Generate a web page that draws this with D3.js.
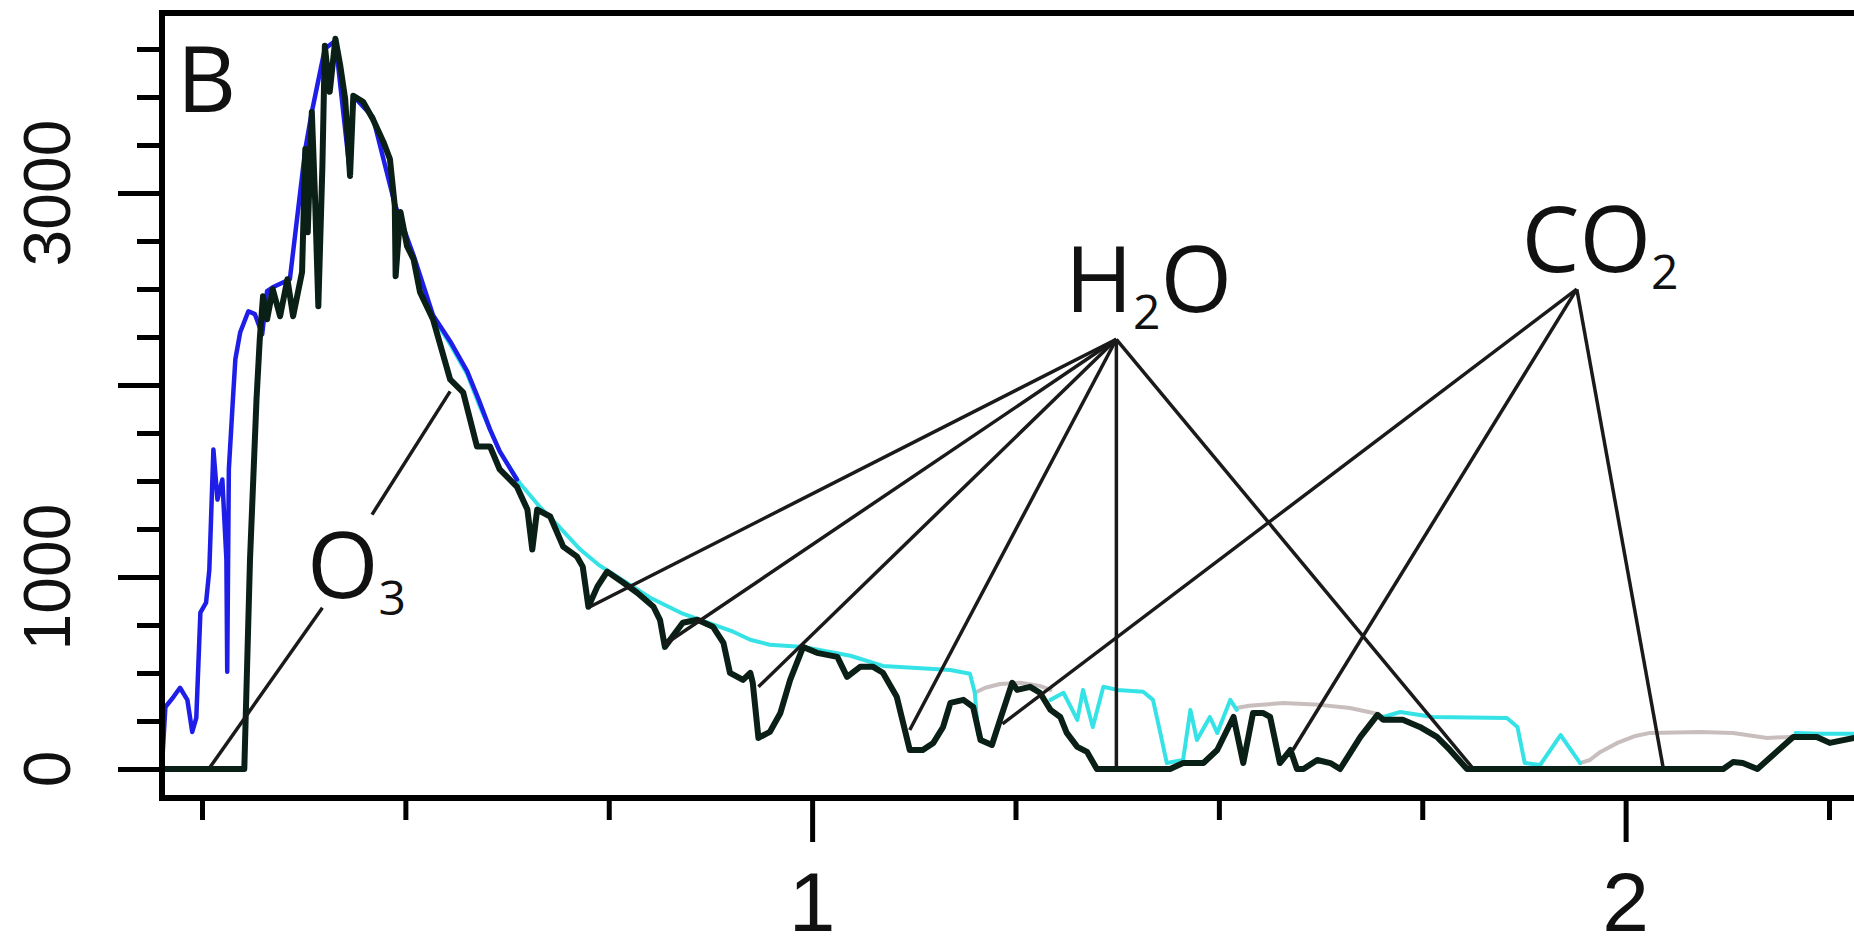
<!DOCTYPE html>
<html>
<head>
<meta charset="utf-8">
<title>Spectrum B</title>
<style>
  body { margin: 0; background: #fff; }
  svg { display: block; }
</style>
</head>
<body>
<svg></svg>
<script src="https://d3js.org/d3.v7.min.js"></script>
<script>
// wavelength (um) and irradiance for each trace
var blackWl = [0.201,0.294,0.302,0.309,0.317,0.321,0.325,0.330,0.337,0.346,0.355,0.362,0.373,0.377,0.380,0.385,0.389,0.393,0.398,0.401,
  0.407,0.414,0.420,0.426,0.432,0.436,0.448,0.460,0.473,0.481,0.487,0.488,0.494,0.502,0.510,0.518,0.534,0.555,0.571,0.588,
  0.604,0.616,0.637,0.650,0.656,0.662,0.678,0.694,0.711,0.718,0.725,0.736,0.748,0.768,0.785,0.805,0.813,0.819,0.841,0.859,
  0.878,0.891,0.899,0.915,0.924,0.927,0.934,0.948,0.961,0.973,0.989,1.006,1.031,1.043,1.059,1.075,1.087,1.104,1.120,1.136,
  1.149,1.161,1.170,1.186,1.198,1.207,1.221,1.231,1.246,1.252,1.268,1.280,1.293,1.305,1.313,1.326,1.338,1.350,1.424,1.440,
  1.456,1.481,1.498,1.518,1.530,1.542,1.554,1.563,1.575,1.588,1.596,1.604,1.621,1.637,1.649,1.674,1.695,1.702,1.726,1.747,
  1.768,1.784,1.805,2.120,2.132,2.144,2.162,2.206,2.235,2.251,2.281];
var blackVal = [0,0,0,1090,1925,2238,2462,2342,2499,2358,2551,2358,2588,3229,2796,3422,2969,2410,3141,3767,
  3527,3803,3662,3490,3089,3506,3475,3386,3266,3177,2932,2567,2901,2723,2656,2483,2342,2029,1962,1680,
  1680,1560,1471,1351,1143,1351,1315,1158,1106,1054,845,950,1028,970,918,845,777,636,762,777,
  741,657,501,464,501,449,162,193,292,464,636,605,584,480,532,532,501,376,99,99,
  136,219,344,360,323,151,125,256,449,412,428,397,308,271,188,115,89,0,0,0,
  31,31,99,271,31,292,292,271,31,99,0,0,47,31,0,167,282,256,256,219,
  167,99,0,0,36,31,0,167,167,136,162];

var blueWl = [0.201,0.205,0.215,0.223,0.232,0.238,0.243,0.248,0.255,0.259,0.264,0.269,0.275,0.280,0.281,0.283,0.288,0.291,0.297,0.307,
  0.315,0.324,0.330,0.337,0.358,0.377,0.385,0.401,0.414,0.432,0.436,0.460,0.487,0.510,0.534,0.555,0.576,0.590,0.604,0.616,0.637];
var blueVal = [31,323,376,423,360,193,266,814,866,1038,1664,1403,1508,1090,506,1560,1925,2134,2275,2384,
  2369,2264,2489,2509,2551,3229,3422,3751,3793,3099,3506,3396,2943,2676,2363,2228,2071,1925,1769,1654,1508];

// null = gap in the trace
var cyanWl = [0.518,0.534,0.555,0.576,0.592,0.616,0.641,0.666,0.690,0.715,0.739,0.770,0.801,0.841,0.883,0.903,0.924,0.948,0.989,1.047,
  1.087,1.170,1.194,1.200,1.204,1.250,1.293,1.309,1.326,1.333,1.345,1.358,1.375,1.407,1.419,1.428,1.436,1.456,1.465,1.473,
  1.489,1.498,1.514,1.522,1.600,1.702,1.723,1.763,1.854,1.867,1.876,1.895,1.920,1.944,2.100,2.209,2.238,2.281];
var cyanVal = [2499,2353,2212,2056,1883,1654,1487,1362,1257,1143,1059,976,892,809,746,715,673,647,636,590,
  537,516,496,397,180,null,360,397,256,412,219,428,412,402,360,188,31,47,308,151,
  271,188,360,308,null,271,297,271,266,219,31,21,177,31,null,188,183,183];

var greyWl = [1.200,1.213,1.231,1.256,1.280,1.293,1.400,1.522,1.537,1.579,1.624,1.661,1.690,1.702,1.800,
  1.944,1.956,1.969,1.990,2.012,2.030,2.092,2.132,2.174,2.202];
var greyVal = [397,423,443,449,433,412,null,318,329,344,334,318,292,271,null,
  31,47,89,136,172,188,193,188,162,167];

// axis ticks
var xTicks = [0.25,0.5,0.75,1,1.25,1.5,1.75,2,2.25];
var xLabelled = [1, 2];
var yTicks = [0,250,500,750,1000,1250,1500,1750,2000,2250,2500,2750,3000,3250,3500,3750];
var yLabelled = [0, 1000, 3000];

// annotations: label parts (digits are subscripts) and where they sit
var labelParts = [["B"], ["O","3"], ["H","2","O"], ["CO","2"]];
var labelWl = [0.219, 0.379, 1.311, 1.872];
var labelVal = [3423, 892, 2379, 2588];

var o3FromWl = [0.398, 0.459], o3FromVal = [840, 1325];
var o3ToWl = [0.260, 0.555], o3ToVal = [10, 1967];
var h2oApex = [1.374, 2238];
var h2oToWl = [0.727, 0.818, 0.934, 1.120, 1.374, 1.811];
var h2oToVal = [845, 647, 428, 203, 10, 10];
var co2Apex = [1.940, 2499];
var co2ToWl = [1.234, 1.591, 2.046];
var co2ToVal = [235, 99, 10];

window.onload = function(){
    var W = 1854, H = 951;
    var left = 162, top = 13, bottom = 798, right = 1900;

    var svg = d3.select("svg").attr("width", W).attr("height", H);
    svg.append("rect").attr("width", W).attr("height", H).attr("fill", "#fff");

    var x = d3.scaleLinear().domain([0.25, 2.25]).range([202, 1829]);
    var y = d3.scaleLinear().domain([0, 3000]).range([769, 193]);

    svg.append("clipPath").attr("id", "plotclip")
        .append("rect").attr("x", left).attr("y", top)
        .attr("width", W - left).attr("height", bottom - top);

    function pairs(wl, val) {
        return wl.map(function(w, i){ return [w, val[i]]; });
    }
    var line = d3.line()
        .defined(function(d){ return d[1] !== null; })
        .x(function(d){ return x(d[0]); })
        .y(function(d){ return y(d[1]); });

    var plot = svg.append("g").attr("clip-path", "url(#plotclip)");

    // traces, back to front
    var traces = [
        {wl: greyWl, val: greyVal, color: "#c9bebe", w: 4},
        {wl: cyanWl, val: cyanVal, color: "#35e3e6", w: 4},
        {wl: blueWl, val: blueVal, color: "#1e1ee8", w: 4.5},
        {wl: blackWl, val: blackVal, color: "#0a1f16", w: 6}
    ];
    traces.forEach(function(t){
        plot.append("path")
            .datum(pairs(t.wl, t.val))
            .attr("d", line)
            .attr("fill", "none")
            .attr("stroke", t.color)
            .attr("stroke-width", t.w)
            .attr("stroke-linejoin", "round")
            .attr("stroke-linecap", "round");
    });

    // leader lines
    var leaders = [];
    o3FromWl.forEach(function(w, i){
        leaders.push([[w, o3FromVal[i]], [o3ToWl[i], o3ToVal[i]]]);
    });
    h2oToWl.forEach(function(w, i){
        leaders.push([h2oApex, [w, h2oToVal[i]]]);
    });
    co2ToWl.forEach(function(w, i){
        leaders.push([co2Apex, [w, co2ToVal[i]]]);
    });
    plot.selectAll("line.leader")
        .data(leaders).enter().append("line")
        .attr("class", "leader")
        .attr("x1", function(d){ return x(d[0][0]); })
        .attr("y1", function(d){ return y(d[0][1]); })
        .attr("x2", function(d){ return x(d[1][0]); })
        .attr("y2", function(d){ return y(d[1][1]); })
        .attr("stroke", "#1a1a1a")
        .attr("stroke-width", 3.5);

    // labels
    labelParts.forEach(function(parts, i){
        var t = svg.append("text")
            .attr("x", x(labelWl[i]))
            .attr("y", y(labelVal[i]))
            .attr("font-family", "'Open Sans', 'Noto Sans', sans-serif")
            .attr("font-size", 92)
            .attr("fill", "#111");
        var shifted = false;
        parts.forEach(function(p){
            var isSub = /^[0-9]+$/.test(p);
            var ts = t.append("tspan").text(p);
            if (isSub) {
                ts.attr("font-size", 48).attr("dy", 17);
                shifted = true;
            } else if (shifted) {
                ts.attr("dy", -17);
                shifted = false;
            }
        });
    });

    // axes
    var yAxis = d3.axisLeft(y).tickValues(yTicks).tickFormat("").tickSizeOuter(0);
    var gy = svg.append("g").attr("transform", "translate(" + left + ",0)").call(yAxis);
    gy.select(".domain").remove();
    gy.selectAll(".tick line")
        .attr("x2", function(d){ return d % 1000 === 0 ? -44 : -25; })
        .attr("stroke", "#000").attr("stroke-width", 5);

    var xAxis = d3.axisBottom(x).tickValues(xTicks).tickFormat("").tickSizeOuter(0);
    var gx = svg.append("g").attr("transform", "translate(0," + bottom + ")").call(xAxis);
    gx.select(".domain").remove();
    gx.selectAll(".tick line")
        .attr("y2", function(d){ return d % 1 === 0 ? 44 : 22; })
        .attr("stroke", "#000").attr("stroke-width", 5);

    svg.selectAll("text.ylab")
        .data(yLabelled).enter().append("text")
        .attr("class", "ylab")
        .attr("transform", function(d){ return "translate(70," + y(d) + ") rotate(-90)"; })
        .attr("text-anchor", "middle")
        .attr("font-family", "'Liberation Sans', Arial, sans-serif")
        .attr("font-size", 66)
        .attr("fill", "#111")
        .text(function(d){ return d; });

    svg.selectAll("text.xlab")
        .data(xLabelled).enter().append("text")
        .attr("class", "xlab")
        .attr("x", function(d){ return x(d); })
        .attr("y", 931)
        .attr("text-anchor", "middle")
        .attr("font-family", "'Liberation Sans', Arial, sans-serif")
        .attr("font-size", 84)
        .attr("fill", "#111")
        .text(function(d){ return d; });

    // frame (open to the right, it runs off the page)
    svg.append("path")
        .attr("d", "M" + right + "," + top + "H" + left + "V" + bottom + "H" + right)
        .attr("fill", "none")
        .attr("stroke", "#000")
        .attr("stroke-width", 6);
};
</script>
</body>
</html>
